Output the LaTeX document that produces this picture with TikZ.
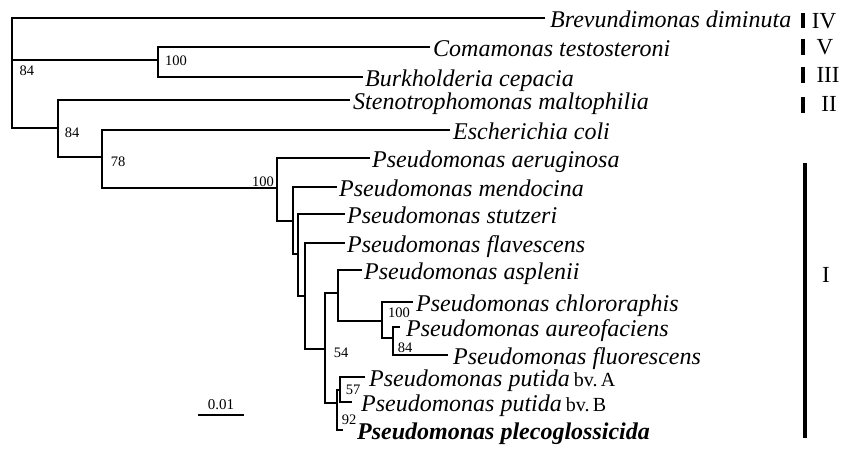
\documentclass[tikz,border=0pt]{standalone}
\usepackage{fontspec}
\setmainfont{Liberation Serif}
\begin{document}
\begin{tikzpicture}[x=1pt,y=-1pt,
  br/.style={line width=2.7pt, line join=miter},
  barline/.style={line width=3.5pt},
  leaf/.style={font=\fontsize{24}{26}\selectfont\itshape, anchor=base west, inner sep=0pt},
  boldleaf/.style={font=\fontsize{24}{26}\selectfont\bfseries\itshape, anchor=base west, inner sep=0pt},
  boot/.style={font=\fontsize{14.5}{16}\selectfont, inner sep=0pt},
  roman/.style={font=\fontsize{23}{25}\selectfont, inner sep=0pt}]
\useasboundingbox (0,0) rectangle (843,450);
% internal nodes
\coordinate (R) at (12,73);
\coordinate (N1) at (158,60);
\coordinate (N2) at (58,128);
\coordinate (N3) at (102,157);
\coordinate (N4) at (277,188);
\coordinate (N5) at (293,221);
\coordinate (N6) at (298,254);
\coordinate (N7) at (305,296);
\coordinate (N8) at (325,349);
\coordinate (N9) at (338,293);
\coordinate (N10) at (382,321);
\coordinate (N11) at (393,338);
\coordinate (N12) at (337,403);
\coordinate (N13) at (340,390);
% branch tips
\coordinate (tBrev) at (545,18);
\coordinate (tComa) at (430,47);
\coordinate (tBurk) at (363,77);
\coordinate (tSteno) at (350,100);
\coordinate (tEcoli) at (450,130);
\coordinate (tAeru) at (370,158);
\coordinate (tMendo) at (337,187);
\coordinate (tStutz) at (345,214);
\coordinate (tFlav) at (345,243);
\coordinate (tAspl) at (362,270);
\coordinate (tChlo) at (413,302);
\coordinate (tAure) at (400,327);
\coordinate (tFluo) at (448,355);
\coordinate (tPutA) at (365,377);
\coordinate (tPutB) at (352,402);
\coordinate (tPleco) at (343,430);
% branches
\draw[br] (R) |- (tBrev);
\draw[br] (R) |- (N1);
\draw[br] (R) |- (N2);
\draw[br] (N1) |- (tComa);
\draw[br] (N1) |- (tBurk);
\draw[br] (N2) |- (tSteno);
\draw[br] (N2) |- (N3);
\draw[br] (N3) |- (tEcoli);
\draw[br] (N3) |- (N4);
\draw[br] (N4) |- (tAeru);
\draw[br] (N4) |- (N5);
\draw[br] (N5) |- (tMendo);
\draw[br] (N5) |- (N6);
\draw[br] (N6) |- (tStutz);
\draw[br] (N6) |- (N7);
\draw[br] (N7) |- (tFlav);
\draw[br] (N7) |- (N8);
\draw[br] (N8) |- (N9);
\draw[br] (N8) |- (N12);
\draw[br] (N9) |- (tAspl);
\draw[br] (N9) |- (N10);
\draw[br] (N10) |- (tChlo);
\draw[br] (N10) |- (N11);
\draw[br] (N11) |- (tAure);
\draw[br] (N11) |- (tFluo);
\draw[br] (N12) |- (N13);
\draw[br] (N12) |- (tPleco);
\draw[br] (N13) |- (tPutA);
\draw[br] (N13) |- (tPutB);
% leaf labels
\node[leaf] (lBrev) at (550,27.5) {Brevundimonas diminuta};
\node[leaf] (lComa) at (433,56.5) {Comamonas testosteroni};
\node[leaf] (lBurk) at (365,86.5) {Burkholderia cepacia};
\node[leaf] (lSteno) at (353,109.5) {Stenotrophomonas maltophilia};
\node[leaf] (lEcoli) at (453,139.5) {Escherichia coli};
\node[leaf] (lAeru) at (372,167.5) {Pseudomonas aeruginosa};
\node[leaf] (lMendo) at (339,196.5) {Pseudomonas mendocina};
\node[leaf] (lStutz) at (347,223.5) {Pseudomonas stutzeri};
\node[leaf] (lFlav) at (347,252.5) {Pseudomonas flavescens};
\node[leaf] (lAspl) at (364,279.5) {Pseudomonas asplenii};
\node[leaf] (lChlo) at (416,311.5) {Pseudomonas chlororaphis};
\node[leaf] (lAure) at (406,336) {Pseudomonas aureofaciens};
\node[leaf] (lFluo) at (453,364.5) {Pseudomonas fluorescens};
\node[leaf] (lPutA) at (369,386.5) {Pseudomonas putida\,{\upshape\fontsize{20}{22}\selectfont bv.\,A}};
\node[leaf] (lPutB) at (361,411.5) {Pseudomonas putida\,{\upshape\fontsize{20}{22}\selectfont bv.\,B}};
\node[boldleaf] (lPleco) at (357,439.5) {Pseudomonas plecoglossicida};
% bootstrap values
\node[boot] (b1) at (27,71) {84};
\node[boot] (b2) at (176,61) {100};
\node[boot] (b3) at (72,133) {84};
\node[boot] (b4) at (118,162) {78};
\node[boot] (b5) at (263,182) {100};
\node[boot] (b6) at (399,313) {100};
\node[boot] (b7) at (405,347.5) {84};
\node[boot] (b8) at (341,353) {54};
\node[boot] (b9) at (353,390) {57};
\node[boot] (b10) at (349,420) {92};
% group bars
\coordinate (g4a) at (803,13); \coordinate (g4b) at (803,28);
\coordinate (g5a) at (803,39); \coordinate (g5b) at (803,55);
\coordinate (g3a) at (803,67); \coordinate (g3b) at (803,83);
\coordinate (g2a) at (803,97); \coordinate (g2b) at (803,113);
\coordinate (g1a) at (805,163); \coordinate (g1b) at (805,438);
\draw[barline] (g4a) -- (g4b);
\draw[barline] (g5a) -- (g5b);
\draw[barline] (g3a) -- (g3b);
\draw[barline] (g2a) -- (g2b);
\draw[barline] (g1a) -- (g1b);
\node[roman] (rIV) at (824,21) {IV};
\node[roman] (rV) at (825,47) {V};
\node[roman] (rIII) at (828,75) {III};
\node[roman] (rII) at (829,104) {II};
\node[roman] (rI) at (826,275) {I};
% scale bar
\coordinate (s1) at (198,415); \coordinate (s2) at (244,415);
\draw[line width=2.2pt] (s1) -- (s2);
\node[font=\fontsize{15}{17}\selectfont, inner sep=0pt] (sl) at (221,405) {0.01};
\end{tikzpicture}
\end{document}
